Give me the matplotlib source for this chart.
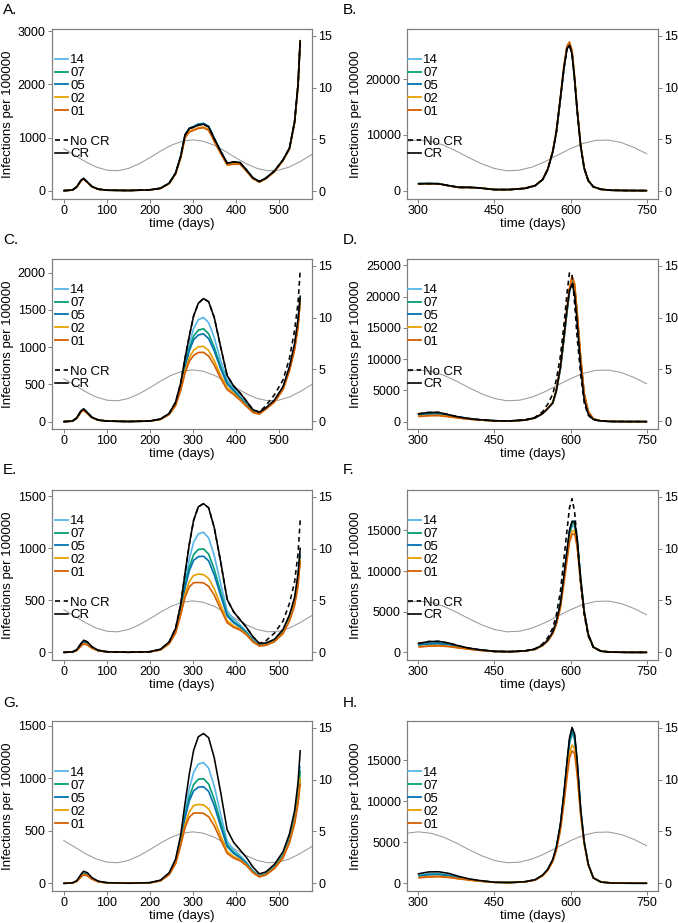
import numpy as np
import matplotlib
matplotlib.use("Agg")
import matplotlib.pyplot as plt
from matplotlib.lines import Line2D

plt.rcParams['font.family'] = ['Liberation Sans', 'DejaVu Sans']

# time grids (days) for the left (0-550) and right (300-750) columns
L_DAYS = [0, 20, 30, 40, 46, 55, 65, 80, 100, 150, 200, 225, 245, 260, 272, 282, 292, 302, 313, 325,
          337, 350, 365, 380, 395, 410, 425, 440, 455, 470, 490, 510, 525, 537, 545, 550]
R_DAYS = [300, 320, 340, 360, 380, 400, 420, 450, 480, 510, 530, 545, 555, 565, 572, 580, 587, 593, 598, 603,
          608, 613, 620, 627, 635, 645, 660, 680, 710, 750]

# seasonal curve (right axis)
R0_DAYS = list(range(0, 751, 25))
R0_VALS = [4.10, 3.48, 2.85, 2.33, 2.02, 1.96, 2.18, 2.63, 3.22, 3.86, 4.43, 4.81, 4.95, 4.81, 4.43, 3.86,
           3.22, 2.63, 2.18, 1.96, 2.02, 2.33, 2.85, 3.48, 4.10, 4.61, 4.90, 4.93, 4.69, 4.22, 3.61]

LEVELS = ['14', '07', '05', '02', '01']

# panel A
A_CR = [0, 12, 70, 195, 230, 160, 80, 28, 9, 3, 15, 45, 140, 330, 650, 1050, 1170, 1195, 1235, 1250, 1200, 980, 740, 520, 540, 530, 390, 240, 172, 235, 370, 580, 800, 1300, 2000, 2820]
A_NOCR = A_CR
A_14 = [0, 12, 70, 195, 228, 160, 80, 28, 9, 3, 15, 45, 140, 330, 650, 1045, 1175, 1210, 1255, 1268, 1210, 985, 740, 515, 535, 528, 388, 240, 170, 233, 368, 578, 798, 1295, 1995, 2815]
A_07 = [0, 12, 70, 194, 227, 159, 80, 28, 9, 3, 15, 45, 140, 328, 645, 1040, 1172, 1208, 1252, 1265, 1207, 982, 737, 512, 532, 525, 386, 238, 169, 232, 366, 576, 796, 1293, 1992, 2812]
A_05 = [0, 12, 69, 193, 226, 158, 79, 28, 9, 3, 15, 45, 139, 326, 642, 1035, 1170, 1205, 1250, 1262, 1205, 980, 735, 510, 530, 523, 384, 237, 168, 231, 365, 575, 795, 1290, 1990, 2810]
A_02 = [0, 11, 67, 188, 220, 154, 77, 27, 9, 3, 14, 43, 135, 318, 625, 1010, 1120, 1150, 1185, 1200, 1150, 940, 710, 490, 505, 505, 370, 228, 162, 226, 358, 568, 788, 1285, 1985, 2830]
A_01 = [0, 11, 66, 185, 216, 151, 76, 27, 9, 3, 14, 42, 133, 312, 615, 995, 1105, 1135, 1170, 1185, 1135, 928, 700, 482, 498, 498, 365, 225, 160, 224, 355, 565, 785, 1282, 1982, 2840]

# panel C
C_CR = [0, 8, 50, 145, 171, 120, 60, 22, 8, 2, 8, 35, 110, 260, 520, 850, 1150, 1420, 1590, 1654, 1610, 1400, 1000, 620, 480, 385, 275, 160, 128, 185, 290, 470, 740, 1050, 1380, 1685]
C_NOCR = [0, 8, 50, 145, 171, 120, 60, 22, 8, 2, 8, 35, 110, 260, 520, 850, 1150, 1420, 1590, 1654, 1610, 1400, 1000, 620, 480, 385, 275, 160, 128, 215, 360, 560, 850, 1230, 1600, 2030]
C_14 = [0, 8, 48, 140, 166, 117, 58, 21, 8, 2, 8, 34, 105, 240, 480, 780, 1040, 1250, 1370, 1400, 1330, 1130, 820, 560, 450, 340, 240, 145, 112, 178, 280, 455, 720, 1020, 1340, 1660]
C_07 = [0, 8, 48, 139, 164, 116, 58, 21, 8, 2, 8, 33, 103, 235, 470, 750, 980, 1150, 1230, 1248, 1180, 1000, 740, 520, 425, 325, 230, 140, 110, 175, 275, 450, 710, 1005, 1320, 1650]
C_05 = [0, 8, 47, 137, 162, 114, 57, 21, 8, 2, 8, 33, 102, 230, 460, 735, 950, 1100, 1165, 1180, 1115, 950, 710, 505, 415, 318, 225, 138, 108, 174, 272, 445, 705, 1000, 1310, 1645]
C_02 = [0, 7, 45, 132, 156, 110, 55, 20, 7, 2, 7, 31, 98, 220, 430, 680, 860, 960, 1005, 1012, 955, 820, 620, 455, 385, 300, 212, 128, 104, 170, 265, 435, 690, 980, 1285, 1630]
C_01 = [0, 7, 44, 128, 151, 107, 54, 20, 7, 2, 7, 30, 96, 215, 420, 650, 810, 890, 928, 932, 880, 760, 580, 430, 365, 290, 205, 122, 100, 168, 262, 430, 680, 965, 1265, 1620]

# panel E
E_CR = [0, 4, 25, 85, 115, 100, 55, 20, 6, 1, 6, 30, 100, 230, 460, 760, 1040, 1270, 1400, 1430, 1390, 1200, 870, 510, 390, 315, 240, 150, 86, 90, 125, 220, 360, 530, 760, 1000]
E_NOCR = [0, 4, 25, 85, 115, 100, 55, 20, 6, 1, 6, 30, 100, 230, 460, 760, 1040, 1270, 1400, 1430, 1390, 1200, 870, 510, 390, 315, 240, 150, 86, 110, 185, 300, 470, 680, 950, 1270]
E_14 = [0, 3, 20, 70, 95, 83, 46, 17, 5, 1, 5, 27, 92, 210, 420, 680, 900, 1060, 1140, 1155, 1100, 930, 660, 400, 320, 265, 200, 120, 72, 78, 118, 205, 340, 505, 720, 960]
E_07 = [0, 3, 20, 69, 93, 82, 45, 17, 5, 1, 5, 26, 90, 205, 405, 640, 820, 940, 990, 995, 945, 800, 580, 365, 295, 250, 190, 115, 70, 76, 115, 200, 332, 495, 705, 940]
E_05 = [0, 3, 19, 68, 92, 81, 45, 17, 5, 1, 5, 26, 88, 200, 395, 620, 785, 885, 920, 925, 880, 745, 545, 350, 285, 243, 185, 112, 68, 74, 112, 196, 325, 485, 690, 930]
E_02 = [0, 3, 18, 63, 85, 75, 42, 16, 5, 1, 5, 24, 84, 190, 370, 560, 680, 740, 752, 748, 710, 610, 455, 305, 255, 225, 175, 105, 64, 70, 106, 186, 310, 465, 660, 900]
E_01 = [0, 3, 17, 60, 80, 71, 40, 15, 4, 1, 4, 23, 82, 185, 360, 530, 630, 670, 672, 668, 635, 550, 415, 285, 240, 215, 168, 100, 61, 67, 102, 180, 300, 450, 640, 880]

# panel G (no "No CR" run)
G_CR = [0, 4, 25, 85, 115, 100, 55, 20, 6, 1, 6, 30, 100, 230, 460, 760, 1040, 1265, 1395, 1426, 1385, 1195, 865, 510, 390, 318, 245, 155, 90, 108, 180, 300, 470, 690, 960, 1260]
G_14 = [0, 3, 20, 70, 95, 83, 46, 17, 5, 1, 5, 27, 92, 210, 420, 680, 900, 1055, 1135, 1149, 1095, 925, 655, 400, 320, 265, 200, 120, 72, 90, 160, 270, 430, 630, 860, 1117]
G_07 = [0, 3, 20, 69, 93, 82, 45, 17, 5, 1, 5, 26, 90, 205, 405, 640, 820, 940, 990, 996, 945, 800, 580, 365, 295, 250, 190, 115, 70, 88, 156, 264, 420, 615, 835, 1070]
G_05 = [0, 3, 19, 68, 92, 81, 45, 17, 5, 1, 5, 26, 88, 200, 395, 620, 785, 880, 915, 919, 875, 740, 540, 350, 285, 243, 185, 112, 68, 86, 152, 258, 410, 595, 800, 990]
G_02 = [0, 3, 18, 63, 85, 75, 42, 16, 5, 1, 5, 24, 84, 190, 370, 560, 680, 740, 750, 746, 708, 608, 453, 305, 255, 225, 175, 105, 64, 82, 146, 250, 398, 585, 790, 1005]
G_01 = [0, 3, 17, 60, 80, 71, 40, 15, 4, 1, 4, 23, 82, 185, 360, 530, 630, 668, 670, 666, 633, 548, 413, 285, 240, 215, 168, 100, 61, 79, 140, 240, 385, 565, 760, 948]

# panel B
B_CR = [1250, 1270, 1250, 900, 600, 600, 500, 200, 200, 420, 900, 2000, 3800, 7000, 10500, 16500, 22000, 25500, 26100, 24500, 20000, 14500, 8000, 4000, 1800, 700, 250, 80, 30, 10]
B_NOCR = B_CR
B_14 = [1250, 1270, 1250, 900, 600, 600, 500, 200, 200, 420, 900, 2000, 3800, 7000, 10500, 16500, 22000, 25600, 26200, 24600, 20000, 14500, 8000, 4000, 1800, 700, 250, 80, 30, 10]
B_07 = [1250, 1270, 1250, 900, 600, 600, 500, 200, 200, 420, 900, 2000, 3800, 7000, 10500, 16500, 22000, 25650, 26300, 24650, 20050, 14500, 8000, 4000, 1800, 700, 250, 80, 30, 10]
B_05 = [1250, 1270, 1250, 900, 600, 600, 500, 200, 200, 420, 900, 2000, 3800, 7000, 10500, 16500, 22000, 25650, 26300, 24700, 20100, 14550, 8000, 4000, 1800, 700, 250, 80, 30, 10]
B_02 = [1240, 1260, 1240, 890, 590, 590, 490, 200, 200, 420, 900, 2000, 3850, 7100, 10650, 16700, 22300, 25800, 26500, 24900, 20300, 14700, 8100, 4050, 1800, 700, 250, 80, 30, 10]
B_01 = [1230, 1250, 1230, 880, 585, 585, 485, 200, 200, 420, 900, 2000, 3900, 7150, 10700, 16800, 22500, 26000, 26700, 25200, 20500, 14800, 8150, 4100, 1820, 700, 250, 80, 30, 10]

# panel D
D_CR = [1250, 1470, 1480, 1100, 750, 500, 320, 150, 110, 250, 600, 1300, 2100, 3000, 5000, 8700, 13500, 18000, 21000, 21950, 20500, 16000, 8800, 3500, 1200, 350, 100, 30, 10, 3]
D_NOCR = [1250, 1470, 1480, 1100, 750, 500, 320, 150, 120, 280, 700, 1600, 2800, 4400, 6700, 10500, 15500, 20500, 23900, 23400, 19000, 13500, 7500, 3000, 1000, 300, 90, 28, 9, 3]
D_14 = [1100, 1300, 1300, 1000, 680, 450, 290, 140, 110, 250, 600, 1300, 2100, 3000, 4900, 8500, 13200, 17600, 20900, 22750, 21500, 17000, 9800, 4200, 1500, 420, 110, 32, 10, 3]
D_07 = [1050, 1240, 1240, 960, 660, 440, 285, 138, 108, 248, 598, 1300, 2100, 3000, 4900, 8500, 13300, 17700, 21000, 22900, 21600, 17100, 9900, 4250, 1520, 420, 110, 32, 10, 3]
D_05 = [1000, 1180, 1190, 930, 640, 430, 280, 136, 107, 246, 596, 1290, 2080, 2980, 4880, 8450, 13200, 17600, 20800, 22600, 21400, 16900, 9800, 4200, 1500, 420, 110, 32, 10, 3]
D_02 = [870, 1000, 1020, 820, 580, 400, 265, 130, 105, 245, 600, 1310, 2120, 3050, 5000, 8700, 13500, 18000, 21200, 23100, 21900, 17400, 10100, 4400, 1600, 450, 115, 33, 10, 3]
D_01 = [820, 940, 960, 780, 560, 390, 260, 128, 104, 245, 605, 1320, 2140, 3080, 5050, 8800, 13700, 18200, 21400, 23290, 22100, 17600, 10300, 4500, 1650, 460, 118, 34, 10, 3]

# panel F
F_CR = [1100, 1330, 1350, 1150, 800, 520, 330, 130, 90, 180, 400, 900, 1500, 2500, 3800, 6000, 9500, 12500, 15000, 16100, 16000, 14000, 9000, 5000, 2200, 650, 150, 35, 8, 2]
F_NOCR = [1100, 1330, 1350, 1150, 800, 520, 330, 130, 90, 190, 450, 1050, 1800, 3000, 4600, 7500, 11500, 15000, 17800, 18890, 17300, 13800, 8500, 4600, 2000, 600, 140, 33, 8, 2]
F_14 = [950, 1150, 1170, 1000, 700, 470, 300, 120, 85, 175, 390, 880, 1450, 2400, 3650, 5800, 9100, 12000, 14500, 15500, 15500, 13600, 8800, 4900, 2150, 640, 150, 35, 8, 2]
F_07 = [900, 1080, 1100, 950, 670, 455, 292, 118, 84, 174, 388, 878, 1450, 2400, 3660, 5850, 9200, 12200, 14700, 15800, 15800, 13800, 8900, 4950, 2180, 645, 150, 35, 8, 2]
F_05 = [850, 1030, 1050, 900, 640, 440, 285, 116, 83, 173, 386, 876, 1450, 2420, 3700, 5900, 9300, 12400, 14950, 16100, 16150, 14100, 9100, 5050, 2220, 650, 152, 35, 8, 2]
F_02 = [700, 820, 850, 750, 560, 400, 265, 110, 80, 170, 380, 860, 1420, 2350, 3550, 5600, 8800, 11600, 13900, 14900, 15000, 13300, 8700, 4900, 2180, 650, 152, 35, 8, 2]
F_01 = [650, 760, 800, 710, 540, 390, 260, 108, 79, 168, 376, 850, 1400, 2300, 3450, 5450, 8550, 11300, 13550, 14500, 14600, 13000, 8550, 4850, 2170, 650, 152, 35, 8, 2]

# panel H (no "No CR" run)
H_CR = [1150, 1380, 1400, 1200, 830, 540, 340, 130, 90, 190, 430, 1000, 1700, 2900, 4400, 7200, 11000, 14800, 17700, 18980, 18200, 15000, 9000, 5000, 2300, 650, 150, 35, 8, 2]
H_14 = [950, 1150, 1170, 1000, 700, 470, 300, 120, 85, 180, 410, 960, 1640, 2800, 4250, 6950, 10600, 14200, 17000, 18160, 17500, 14500, 8800, 4950, 2280, 650, 150, 35, 8, 2]
H_07 = [900, 1080, 1100, 950, 670, 455, 292, 118, 84, 178, 408, 958, 1640, 2810, 4280, 7000, 10700, 14400, 17200, 18400, 17700, 14650, 8850, 4970, 2290, 650, 150, 35, 8, 2]
H_05 = [850, 1030, 1050, 900, 640, 440, 285, 116, 83, 177, 406, 956, 1645, 2830, 4320, 7080, 10850, 14600, 17500, 18780, 18000, 14850, 8950, 5000, 2300, 650, 150, 35, 8, 2]
H_02 = [700, 820, 850, 750, 560, 400, 265, 110, 80, 172, 395, 930, 1590, 2700, 4100, 6650, 10100, 13400, 15900, 16820, 16400, 13700, 8500, 4850, 2260, 650, 152, 35, 8, 2]
H_01 = [650, 760, 800, 710, 540, 390, 260, 108, 79, 170, 390, 915, 1560, 2640, 4000, 6450, 9750, 12900, 15250, 16120, 15800, 13300, 8350, 4800, 2250, 650, 152, 35, 8, 2]

COLORS = {'14': '#56B4E9', '07': '#009E73', '05': '#0072B2', '02': '#E69F00', '01': '#D55E00'}
BORDER = '#7f7f7f'
DASH = (0, (3.0, 2.2))

LEFT_X = (0.0767, 0.3835)
RIGHT_X = (0.6003, 0.3702)
ROW_BOTTOMS = [0.7844, 0.5352, 0.2849, 0.0347]
ROW_H = 0.1845
LETTER_Y = [10, 240, 470, 703]

panels = [
    ('A.', 0, 'L', A_CR, A_NOCR, [A_14, A_07, A_05, A_02, A_01], (-157, 3050), [0, 1000, 2000, 3000]),
    ('B.', 0, 'R', B_CR, B_NOCR, [B_14, B_07, B_05, B_02, B_01], (-1490, 29075), [0, 10000, 20000]),
    ('C.', 1, 'L', C_CR, C_NOCR, [C_14, C_07, C_05, C_02, C_01], (-99, 2189), [0, 500, 1000, 1500, 2000]),
    ('D.', 1, 'R', D_CR, D_NOCR, [D_14, D_07, D_05, D_02, D_01], (-1178, 26070), [0, 5000, 10000, 15000, 20000, 25000]),
    ('E.', 2, 'L', E_CR, E_NOCR, [E_14, E_07, E_05, E_02, E_01], (-74, 1564), [0, 500, 1000, 1500]),
    ('F.', 2, 'R', F_CR, F_NOCR, [F_14, F_07, F_05, F_02, F_01], (-940, 19990), [0, 5000, 10000, 15000]),
    ('G.', 3, 'L', G_CR, None, [G_14, G_07, G_05, G_02, G_01], (-73, 1548), [0, 500, 1000, 1500]),
    ('H.', 3, 'R', H_CR, None, [H_14, H_07, H_05, H_02, H_01], (-939, 19796), [0, 5000, 10000, 15000]),
]

fig = plt.figure(figsize=(6.78, 9.23), dpi=100)

for letter, row, side, cr, nocr, levels, ylim, yticks in panels:
    x0, w = LEFT_X if side == 'L' else RIGHT_X
    ax = fig.add_axes([x0, ROW_BOTTOMS[row], w, ROW_H])
    tw = ax.twinx()
    ax.set_zorder(tw.get_zorder() + 1)
    ax.patch.set_visible(False)

    if side == 'L':
        days = L_DAYS
        xlim = (-27.5, 577.5)
        xticks = [0, 100, 200, 300, 400, 500]
        leg_x = 0.012
    else:
        days = R_DAYS
        xlim = (277.5, 772.5)
        xticks = [300, 450, 600, 750]
        leg_x = 0.004

    tw.plot(R0_DAYS, R0_VALS, color='#9a9a9a', lw=0.75)
    tw.set_ylim(-0.77, 15.7)
    tw.set_yticks([0, 5, 10, 15])

    for lab, vals in zip(LEVELS, levels):
        ax.plot(days, vals, color=COLORS[lab], lw=1.2, solid_capstyle='butt')
    ax.plot(days, cr, color='black', lw=1.15)
    if nocr is not None:
        ax.plot(days, nocr, color='black', lw=1.15, linestyle=DASH)

    ax.set_xlim(*xlim)
    tw.set_xlim(*xlim)
    ax.set_ylim(*ylim)
    ax.set_xticks(xticks)
    ax.set_yticks(yticks)
    ax.set_xlabel('time (days)', fontsize=9.5, labelpad=0.5)
    ax.set_ylabel('Infections per 100000', fontsize=9.5, labelpad=3)

    for a in (ax, tw):
        for sp in a.spines.values():
            sp.set_color(BORDER)
            sp.set_linewidth(0.8)
        a.tick_params(direction='out', length=3, width=0.7, color=BORDER,
                      labelsize=9, labelcolor='black', pad=1.5)

    handles = [Line2D([0], [0], color=COLORS[l], lw=1.3) for l in LEVELS]
    leg_y = 0.664 if nocr is not None else 0.542
    leg1 = ax.legend(handles, LEVELS, loc='center left', bbox_to_anchor=(leg_x, leg_y),
                     frameon=False, fontsize=9.5, handlelength=1.0, handletextpad=0.15,
                     labelspacing=0.05, borderpad=0, borderaxespad=0)
    if nocr is not None:
        ax.add_artist(leg1)
        h2 = [Line2D([0], [0], color='black', lw=1.2, linestyle=DASH),
              Line2D([0], [0], color='black', lw=1.2)]
        ax.legend(h2, ['No CR', 'CR'], loc='center left', bbox_to_anchor=(leg_x, 0.300),
                  frameon=False, fontsize=9.5, handlelength=1.0, handletextpad=0.15,
                  labelspacing=0.0, borderpad=0, borderaxespad=0)

    lx = 3 if side == 'L' else 343
    fig.text(lx / 678, 1 - LETTER_Y[row] / 923, letter, fontsize=11, ha='left', va='center')

fig.savefig('out.png', dpi=100)
